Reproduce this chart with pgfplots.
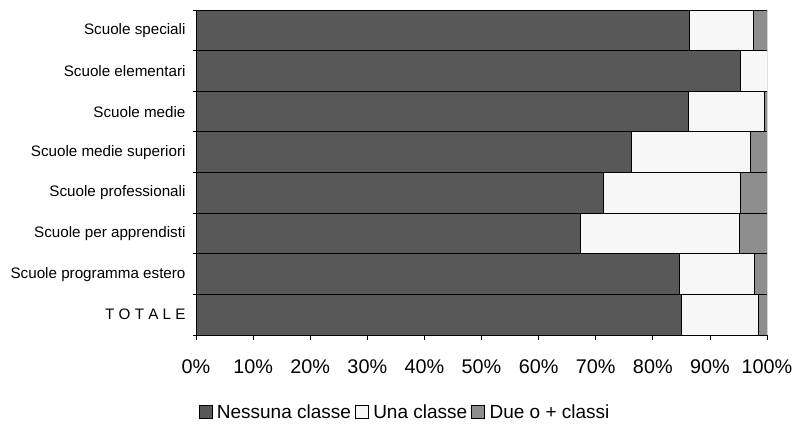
\documentclass[border=0pt]{standalone}
\usepackage{fontspec}
\setmainfont{Liberation Sans}
\usepackage{pgfplots}
\pgfplotsset{compat=1.18}
\definecolor{cDark}{HTML}{585858}
\definecolor{cWhite}{HTML}{F7F7F7}
\definecolor{cMid}{HTML}{8E8E8E}
\begin{document}
\begin{tikzpicture}[x=1bp,y=1bp]
\useasboundingbox (0,0) rectangle (798,432);
\begin{axis}[
  at={(196bp,97bp)}, anchor=south west,
  scale only axis, width=571bp, height=325bp,
  xbar stacked, bar width=1,
  y dir=reverse,
  xmin=0, xmax=100, ymin=-0.5, ymax=7.5,
  axis lines*=left,
  axis line style={line width=0.8bp},
  tick align=outside,
  xtick={0,10,...,100},
  xticklabel={\pgfmathprintnumber{\tick}\%},
  /pgf/number format/assume math mode=true,
  major tick length=5bp,
  minor tick length=3bp,
  ytick={0,...,7},
  yticklabels={Scuole speciali,Scuole elementari,Scuole medie,Scuole medie superiori,Scuole professionali,Scuole per apprendisti,Scuole programma estero,T O T A L E},
  minor ytick={-0.5,0.5,...,7.5},
  major y tick style={draw=none},
  minor y tick style={draw=black, line width=0.8bp},
  major x tick style={draw=black, line width=0.8bp},
  yticklabel style={font=\fontsize{15.2bp}{17bp}\selectfont, xshift=-2bp},
  xticklabel style={font=\fontsize{19.8bp}{22bp}\selectfont, yshift=-16bp},
  legend style={at={(0.366,-0.237)}, anchor=center, draw=none, fill=none,
    legend columns=3, font=\fontsize{19bp}{22bp}\selectfont,
    /tikz/every even column/.append style={column sep=2bp},
    inner sep=0pt},
  legend image code/.code={\draw[#1,draw=black,line width=0.6bp] (0bp,-6bp) rectangle (13bp,7bp); \path[draw=none,fill=none] (0bp,0bp) -- (16bp,0bp);},
  every axis plot/.append style={draw=black, line width=1bp},
]
\addplot[fill=cDark] coordinates {(86.4,0) (95.4,1) (86.3,2) (76.3,3) (71.3,4) (67.4,5) (84.6,6) (85.0,7)};
\addplot[fill=cWhite] coordinates {(11.2,0) (4.6,1) (13.2,2) (20.8,3) (24.0,4) (27.7,5) (13.2,6) (13.5,7)};
\addplot[fill=cMid] coordinates {(2.4,0) (0,1) (0.5,2) (2.9,3) (4.7,4) (4.9,5) (2.2,6) (1.5,7)};
\legend{Nessuna classe,Una classe,Due o + classi}
\end{axis}
\end{tikzpicture}
\end{document}
